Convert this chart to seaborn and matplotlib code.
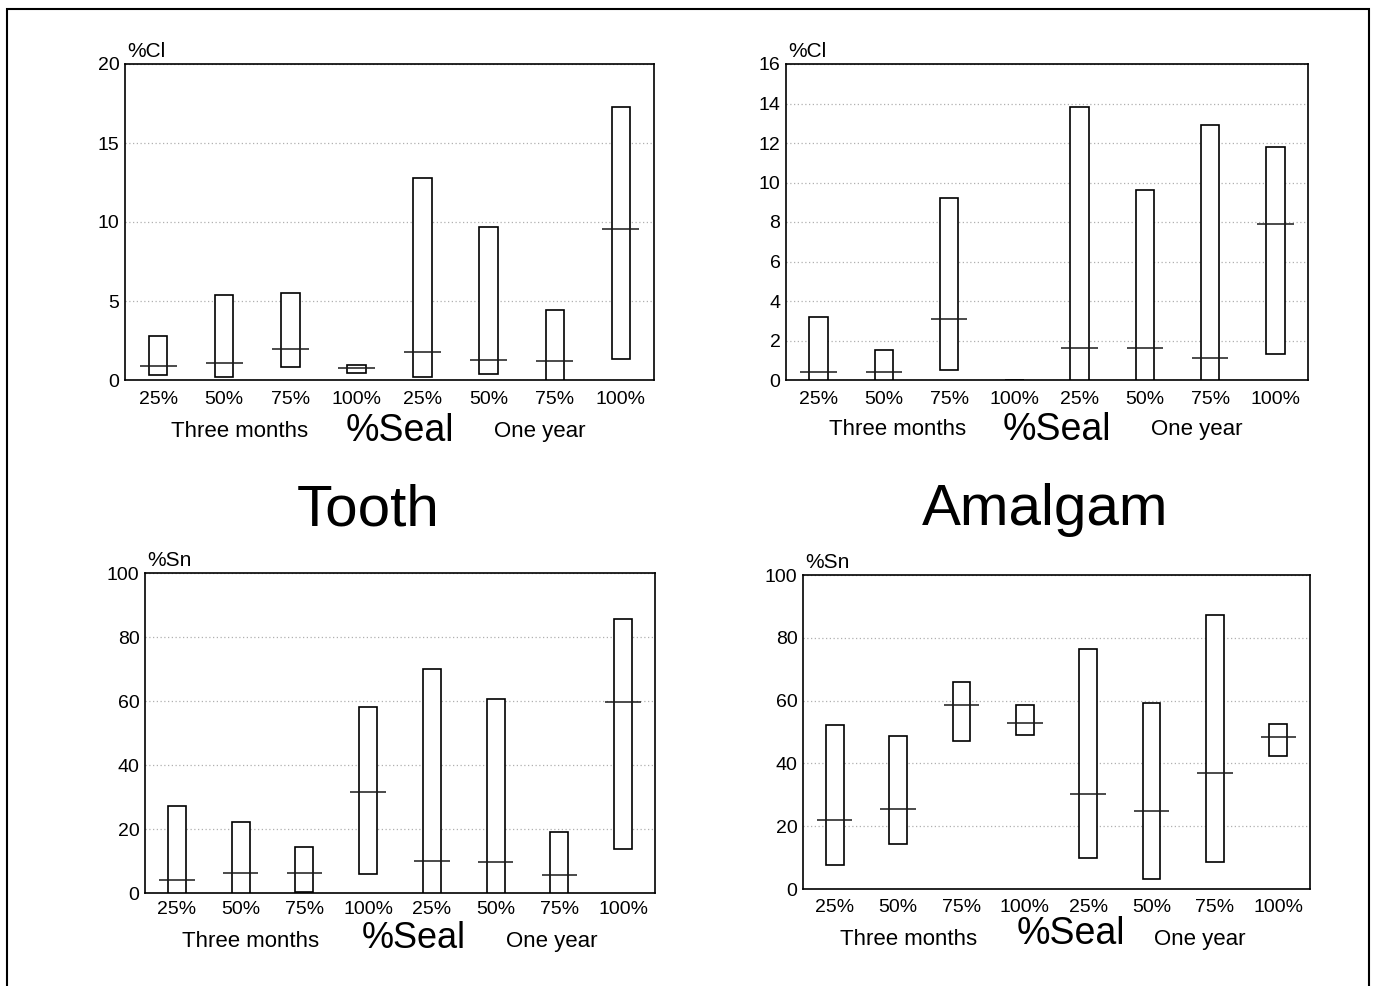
import numpy as np
import pandas as pd
import matplotlib
matplotlib.use("Agg")
import matplotlib.pyplot as plt
from matplotlib.patches import Rectangle
import seaborn as sns

# ---------------- data ----------------
seal_labels = ["25%", "50%", "75%", "100%", "25%", "50%", "75%", "100%"]
group_keys = ["3m 25%", "3m 50%", "3m 75%", "3m 100%", "1y 25%", "1y 50%", "1y 75%", "1y 100%"]

tooth_cl_low = [0.3, 0.2, 0.8, 0.45, 0.2, 0.35, 0.0, 1.35]
tooth_cl_high = [2.8, 5.4, 5.5, 0.95, 12.8, 9.7, 4.45, 17.3]
tooth_cl_med = [0.9, 1.1, 1.95, 0.75, 1.75, 1.25, 1.2, 9.55]

amalgam_cl_low = [0.0, 0.0, 0.5, 0.0, 0.0, 0.0, 0.0, 1.3]
amalgam_cl_high = [3.2, 1.5, 9.2, 0.0, 13.8, 9.6, 12.9, 11.8]
amalgam_cl_med = [0.4, 0.4, 3.1, np.nan, 1.6, 1.6, 1.1, 7.9]

tooth_sn_low = [0.0, 0.0, 0.3, 5.9, 0.0, 0.0, 0.0, 13.7]
tooth_sn_high = [27.3, 22.2, 14.5, 58.2, 70.0, 60.5, 19.2, 85.5]
tooth_sn_med = [4.2, 6.3, 6.2, 31.7, 10.0, 9.8, 5.7, 59.6]

amalgam_sn_low = [7.5, 14.2, 47.0, 49.0, 10.0, 3.2, 8.5, 42.3]
amalgam_sn_high = [52.3, 48.6, 65.8, 58.6, 76.5, 59.3, 87.3, 52.6]
amalgam_sn_med = [22.0, 25.5, 58.7, 52.8, 30.4, 25.0, 36.8, 48.3]

# ---------------- style ----------------
sns.set_style("white")
plt.rcParams["font.family"] = ["Liberation Sans", "DejaVu Sans"]
plt.rcParams["text.color"] = "black"
plt.rcParams["axes.labelcolor"] = "black"
plt.rcParams["xtick.color"] = "black"
plt.rcParams["ytick.color"] = "black"

W, H = 1374, 986
fig = plt.figure(figsize=(W / 100, H / 100), dpi=100)


def px_axes(left, right, top, bottom):
    return fig.add_axes([left / W, 1 - bottom / H, (right - left) / W, (bottom - top) / H])


panels = [
    dict(box=(125, 654, 64, 380), low=tooth_cl_low, high=tooth_cl_high, med=tooth_cl_med,
         ymax=20, step=5, ylab="%Cl", pad=8, sealsize=27,
         txt=dict(three=(240, 437), seal=(400, 441), one=(540, 437))),
    dict(box=(786, 1308, 64, 380), low=amalgam_cl_low, high=amalgam_cl_high, med=amalgam_cl_med,
         ymax=16, step=2, ylab="%Cl", pad=8, sealsize=27,
         txt=dict(three=(898, 435), seal=(1057, 440), one=(1197, 435))),
    dict(box=(145, 655, 573, 893), low=tooth_sn_low, high=tooth_sn_high, med=tooth_sn_med,
         ymax=100, step=20, ylab="%Sn", pad=6, sealsize=26,
         txt=dict(three=(251, 947), seal=(414, 948), one=(552, 947))),
    dict(box=(803, 1310, 575, 889), low=amalgam_sn_low, high=amalgam_sn_high, med=amalgam_sn_med,
         ymax=100, step=20, ylab="%Sn", pad=7, sealsize=27,
         txt=dict(three=(909, 945), seal=(1071, 944), one=(1200, 945))),
]

for p in panels:
    ax = px_axes(*p["box"])
    low = np.array(p["low"], dtype=float)
    high = np.array(p["high"], dtype=float)
    df = pd.DataFrame({"group": group_keys, "span": high - low})
    sns.barplot(data=df, x="group", y="span", order=group_keys, bottom=low,
                color="white", edgecolor="black", linewidth=1.2, width=0.28,
                errorbar=None, saturation=1, ax=ax, zorder=3)
    xs = np.arange(len(group_keys))
    ax.hlines(p["med"], xs - 0.28, xs + 0.28, colors="#1a1a1a", linewidth=1.1, zorder=4)

    ax.set_ylim(0, p["ymax"])
    ax.set_xlim(-0.5, len(group_keys) - 0.5)
    ax.set_yticks(np.arange(0, p["ymax"] + 0.01, p["step"]))
    ax.set_xticks(xs)
    ax.set_xticklabels(seal_labels)
    ax.set_xlabel("")
    ax.set_ylabel("")
    ax.yaxis.grid(True, linestyle=(0, (1, 2)), color="#b0b0b0", linewidth=0.9, zorder=0)
    ax.xaxis.grid(False)
    ax.set_axisbelow(True)
    for s in ax.spines.values():
        s.set_visible(True)
        s.set_color("black")
        s.set_linewidth(1.2)
    ax.tick_params(axis="x", direction="in", length=6, width=1, pad=p["pad"], labelsize=14, colors="black")
    ax.tick_params(axis="y", length=0, pad=4, labelsize=14, colors="black")
    ax.text(0.005, 1.008, p["ylab"], transform=ax.transAxes, ha="left", va="bottom", fontsize=15)

    t = p["txt"]
    fig.text(t["three"][0] / W, 1 - t["three"][1] / H, "Three months", ha="center", va="baseline", fontsize=16)
    fig.text(t["seal"][0] / W, 1 - t["seal"][1] / H, "%Seal", ha="center", va="baseline", fontsize=p["sealsize"])
    fig.text(t["one"][0] / W, 1 - t["one"][1] / H, "One year", ha="center", va="baseline", fontsize=16)

fig.text(368 / W, 1 - 525 / H, "Tooth", ha="center", va="baseline", fontsize=42)
fig.text(1045 / W, 1 - 525 / H, "Amalgam", ha="center", va="baseline", fontsize=42)

fig.add_artist(Rectangle((7 / W, -0.05), (1369 - 7) / W, 1.05 - 9 / H, transform=fig.transFigure,
                         fill=False, edgecolor="black", linewidth=1.5))

fig.savefig("out.png", dpi=100, facecolor="white")
